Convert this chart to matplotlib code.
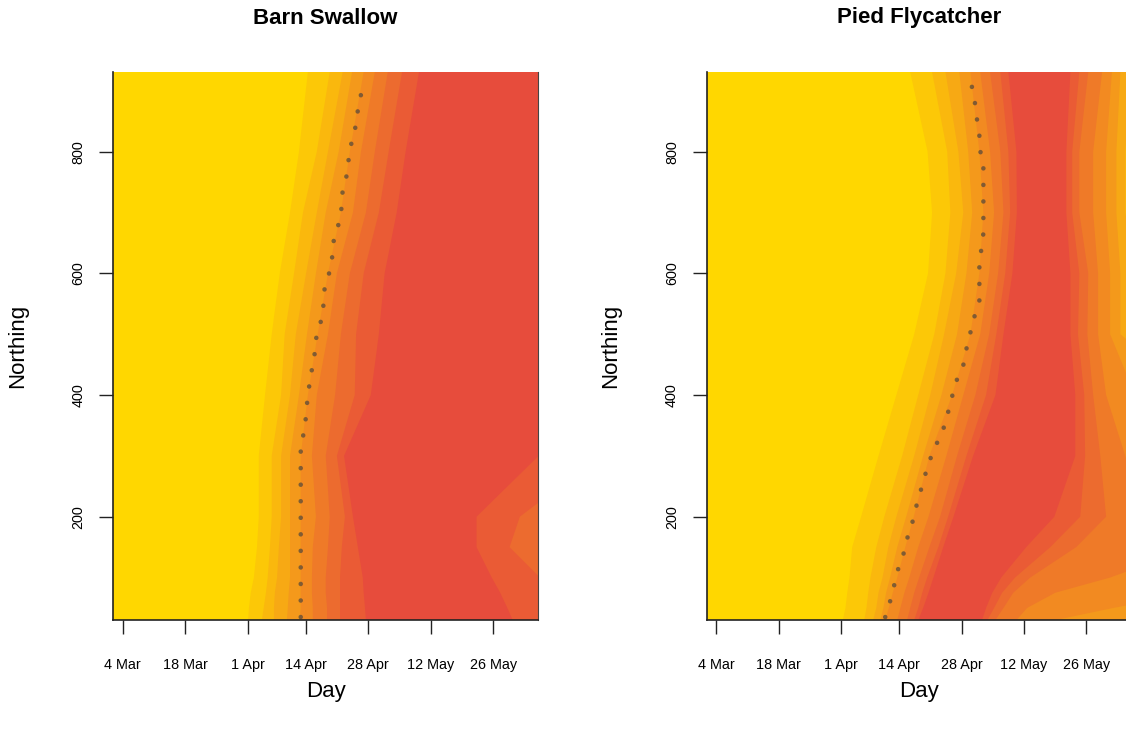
import numpy as np
import matplotlib
matplotlib.use("Agg")
import matplotlib.pyplot as plt
from matplotlib.colors import LinearSegmentedColormap

plt.rcParams['font.family'] = ['Liberation Sans', 'DejaVu Sans']

# axis ticks (day of year) and labels
day_ticks = [63, 77, 91, 104, 118, 132, 146]
day_labels = ["4 Mar", "18 Mar", "1 Apr", "14 Apr", "28 Apr", "12 May", "26 May"]
north_ticks = [200, 400, 600, 800]

north_levels = [30, 50, 75, 100, 150, 200, 300, 400, 500, 600, 700, 800, 931]

# Barn Swallow: day at which each of the 9 band edges is passed (rising side),
# one row per northing level
swallow_rise = [
    [91.1, 94.2, 96.9, 99.8, 102.7, 105.6, 108.8, 111.7, 117.5],
    [91.3, 94.6, 96.9, 100.0, 102.9, 105.6, 108.8, 111.7, 117.3],
    [91.7, 95.1, 97.1, 100.2, 102.9, 105.4, 108.5, 111.7, 117.0],
    [92.4, 95.5, 97.6, 100.5, 102.9, 105.4, 108.5, 111.7, 116.8],
    [93.1, 96.0, 98.0, 100.5, 102.9, 105.6, 109.0, 112.1, 115.7],
    [93.5, 96.4, 98.5, 100.5, 102.9, 106.3, 109.4, 112.8, 114.6],
    [93.5, 96.4, 98.5, 100.5, 102.9, 105.4, 108.5, 111.0, 112.6],
    [94.9, 98.5, 100.5, 102.5, 104.5, 106.5, 110.6, 115.0, 118.6],
    [96.4, 99.3, 101.8, 104.3, 106.7, 109.0, 111.9, 115.3, 120.4],
    [98.2, 101.4, 104.1, 106.3, 109.0, 111.0, 113.9, 117.0, 121.7],
    [100.5, 103.4, 106.5, 108.5, 111.9, 114.6, 117.5, 120.4, 124.4],
    [102.5, 106.5, 109.0, 111.4, 113.9, 116.4, 119.5, 122.6, 126.4],
    [104.5, 109.4, 112.3, 114.4, 117.0, 119.5, 122.4, 125.6, 129.4],
]
# falling side (None = band runs on to the right edge)
swallow_fall = [
    [None, None, None, None, None, None, None, None, 150.4],
    [None, None, None, None, None, None, None, None, 149.2],
    [None, None, None, None, None, None, None, None, 147.6],
    [None, None, None, None, None, None, None, 156.5, 145.7],
    [None, None, None, None, None, None, None, 149.7, 142.3],
    [None, None, None, None, None, None, None, 152.0, 142.3],
    [None, None, None, None, None, None, None, None, 156.2],
    [None, None, None, None, None, None, None, None, None],
    [None, None, None, None, None, None, None, None, None],
    [None, None, None, None, None, None, None, None, None],
    [None, None, None, None, None, None, None, None, None],
    [None, None, None, None, None, None, None, None, None],
    [None, None, None, None, None, None, None, None, None],
]
swallow_median_day = [102.9, 102.9, 104.0, 104.0, 104.7, 104.9, 106.0, 106.0, 107.0, 108.0,
                      107.9, 108.9, 109.9, 110.0, 111.0, 112.0, 112.0, 113.0, 113.5, 114.0,
                      115.0, 115.5, 116.2, 117.0]
swallow_median_north = [35, 321, 346, 374, 402, 430, 455, 484, 510, 537, 565, 591, 617, 646,
                        671, 698, 726, 752, 780, 807, 833, 860, 887, 914]

# Pied Flycatcher
flycatcher_rise = [
    [91.4, 96.2, 98.2, 99.8, 100.9, 103.6, 105.8, 107.4, 108.3],
    [92.0, 96.7, 98.9, 100.5, 101.7, 104.3, 106.5, 108.3, 109.4],
    [92.4, 97.1, 99.4, 101.1, 102.6, 105.2, 107.4, 109.2, 110.6],
    [92.9, 97.6, 100.3, 102.0, 103.6, 106.3, 108.5, 110.3, 111.7],
    [93.5, 98.9, 101.6, 103.6, 105.4, 108.3, 110.8, 112.8, 113.9],
    [95.5, 100.7, 103.4, 105.6, 107.3, 110.6, 113.2, 115.0, 116.2],
    [99.4, 104.7, 107.4, 109.4, 110.8, 114.6, 117.0, 119.1, 120.6],
    [103.4, 108.3, 111.0, 113.5, 115.9, 118.4, 121.1, 123.5, 125.6],
    [107.4, 111.9, 114.1, 117.0, 120.0, 122.2, 124.2, 125.8, 127.4],
    [110.5, 114.4, 116.8, 119.1, 122.0, 124.2, 126.2, 127.8, 129.4],
    [111.4, 115.5, 118.4, 120.4, 122.9, 125.3, 127.4, 128.9, 130.4],
    [110.4, 114.8, 117.3, 119.5, 122.0, 124.4, 126.7, 128.5, 130.3],
    [106.5, 111.4, 114.4, 117.5, 120.0, 122.2, 124.4, 126.7, 128.5],
]
flycatcher_fall = [
    [None, None, None, None, 139.0, 130.3, 125.6, 123.8, 122.6],
    [None, None, None, None, 152.0, 132.7, 127.4, 125.3, 123.5],
    [None, None, None, None, None, 139.0, 129.6, 127.1, 124.9],
    [None, None, None, None, None, 151.3, 133.4, 130.0, 126.9],
    [None, None, None, None, None, None, 143.7, 137.9, 132.5],
    [None, None, None, None, None, 158.0, 150.4, 144.6, 138.8],
    [None, None, None, None, None, 154.7, 149.1, 145.7, 143.5],
    [None, None, None, None, 156.9, 150.4, 147.5, 145.5, 143.5],
    [None, None, 156.9, 153.6, 151.3, 148.6, 146.2, 144.1, 142.4],
    [None, None, 156.9, 153.6, 151.3, 148.6, 146.4, 144.4, 142.4],
    [None, None, 154.7, 152.7, 150.4, 147.5, 144.4, 142.8, 141.5],
    [None, None, 154.7, 152.7, 150.4, 147.5, 144.4, 142.8, 141.5],
    [None, None, 155.8, 153.6, 151.7, 149.5, 146.4, 144.4, 142.4],
]
flycatcher_median_day = [100.9, 102.0, 102.9, 103.8, 105.0, 105.9, 107.0, 107.9, 108.9, 109.9,
                         111.0, 112.5, 114.0, 115.0, 115.9, 116.9, 118.4, 119.1, 120.0, 120.9,
                         122.0, 122.0, 122.5, 122.9, 122.9, 122.0, 122.0, 121.2, 120.9, 120.0]
flycatcher_median_north = [35, 61, 87, 114, 139, 166, 191, 218, 244, 270, 295, 321, 346, 372,
                           398, 424, 449, 476, 503, 529, 555, 616, 643, 666, 780, 807, 835, 862,
                           890, 916]

cmap = LinearSegmentedColormap.from_list("arrival", ["#FFD700", "#E74C3C"])
band_colors = cmap(np.linspace(0, 1, 10))

W, H = 1126, 731
fig = plt.figure(figsize=(W / 100, H / 100), dpi=100)


def px_axes(left, top, right, bottom):
    return fig.add_axes([left / W, 1 - bottom / H, (right - left) / W, (bottom - top) / H])


def draw_panel(ax, title, rise, fall, med_day, med_north):
    n = np.array(north_levels, dtype=float)
    rise = np.array(rise, dtype=float)
    fall = np.array(fall, dtype=float)
    fall = np.where(np.isnan(fall), 170.0, fall)

    ax.set_facecolor(band_colors[0])
    for k in range(9):
        xs = np.concatenate([rise[:, k], fall[::-1, k]])
        ys = np.concatenate([n, n[::-1]])
        ax.fill(xs, ys, color=band_colors[k + 1], lw=0)

    # median arrival: thick dotted line
    ax.plot(med_day, med_north, color="#5a4a3a", alpha=0.75, lw=3.3,
            linestyle=(0, (0.01, 3.6)), dash_capstyle="round")

    ax.set_xlim(60.9, 156.0)
    ax.set_ylim(30.2, 931)
    ax.set_xticks(day_ticks, day_labels)
    ax.set_yticks(north_ticks)
    for lab in ax.get_xticklabels():
        lab.set_va("baseline")
    for lab in ax.get_yticklabels():
        lab.set_rotation(90)
        lab.set_va("center")
    ax.tick_params(direction="out", length=10, width=1, labelsize=10.4, color="#222222")
    ax.tick_params(axis="x", pad=25.5)
    ax.tick_params(axis="y", pad=10)
    ax.spines["top"].set_visible(False)
    for s in ("left", "bottom"):
        ax.spines[s].set_linewidth(1.2)
        ax.spines[s].set_color("#222222")
    ax.spines["right"].set_linewidth(0.8)
    ax.spines["right"].set_color("#444444")

    pos = ax.get_position()
    cx = (pos.x0 + pos.x1) / 2
    fig.text(cx, 1 - 18 / H, title, ha="center", va="center", fontsize=16, fontweight="bold")
    fig.text(cx, 1 - 692 / H, "Day", ha="center", va="center", fontsize=16)
    fig.text(pos.x0 - 96 / W, (pos.y0 + pos.y1) / 2, "Northing", rotation=90,
             ha="center", va="center", fontsize=16)


ax1 = px_axes(113.3, 72, 537.7, 620)
draw_panel(ax1, "Barn Swallow", swallow_rise, swallow_fall,
           swallow_median_day, swallow_median_north)

ax2 = px_axes(706.7, 72, 1131.1, 620)
draw_panel(ax2, "Pied Flycatcher", flycatcher_rise, flycatcher_fall,
           flycatcher_median_day, flycatcher_median_north)

fig.savefig("out.png", dpi=100)
